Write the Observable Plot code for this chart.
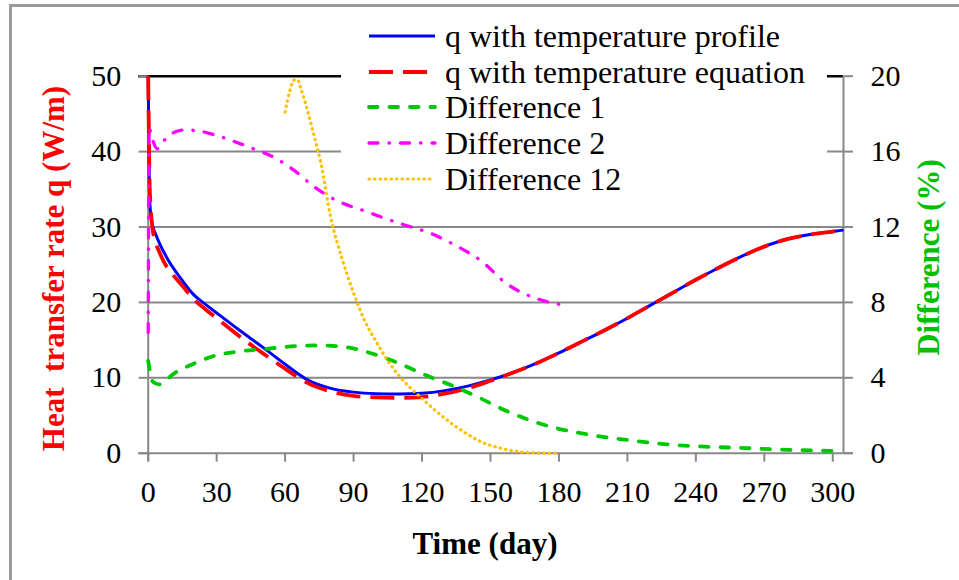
<!DOCTYPE html>
<html>
<head>
<meta charset="utf-8">
<script src="https://cdn.jsdelivr.net/npm/d3@7"></script>
<script src="https://cdn.jsdelivr.net/npm/@observablehq/plot@0.6"></script>
<style>
  html, body { margin: 0; padding: 0; background: #fff; }
  #wrap { position: relative; width: 959px; height: 580px; overflow: hidden; font-family: "Liberation Serif", "Times New Roman", serif; }
  #frame { position: absolute; left: 9px; top: 4px; width: 960px; height: 590px; border-left: 3px solid #999; border-top: 3px solid #999; box-sizing: border-box; }
  #chart { position: absolute; left: 0; top: 0; }
  .lab { position: absolute; font-weight: bold; font-size: 31px; white-space: pre; line-height: 1; }
  #legend { position: absolute; left: 341px; top: 18px; width: 486px; height: 178px; background: #fff; }
  .row { position: absolute; left: 26px; height: 36px; display: flex; align-items: center; font-size: 32px; white-space: nowrap; font-family: "Liberation Serif", "Times New Roman", serif; }
  .row svg { width: 70px; height: 12px; margin-right: 8px; }
</style>
</head>
<body>
<div id="wrap">
  <div id="frame"></div>
  <div id="chart"></div>
  <div id="legend"></div>
  <div class="lab" id="ylab" style="color:#ff0000;">Heat  transfer rate q (W/m)</div>
  <div class="lab" id="y2lab" style="color:#00c000;">Difference (%)</div>
  <div class="lab" id="xlab" style="color:#000;">Time (day)</div>
</div>
<script>
// ---- data ----
const xTicks = [0, 30, 60, 90, 120, 150, 180, 210, 240, 270, 300];
const yTicks = [0, 10, 20, 30, 40, 50];          // heat transfer rate (W/m)
const y2Ticks = [0, 4, 8, 12, 16, 20];           // difference (%)

const profileDay = [0, 0.3, 0.6, 1, 2, 3.2, 5, 9, 14, 20, 24, 30, 40, 50, 60, 70, 80, 90, 100, 110, 120, 130, 140, 150, 160, 170, 180, 190, 200, 210, 220, 230, 240, 250, 260, 270, 280, 290, 300, 304.7];
const profileQ = [50, 40, 34, 32, 30.1, 29.1, 27.8, 25.5, 23.3, 21.0, 20.0, 18.6, 16.3, 14.1, 11.8, 9.7, 8.6, 8.1, 7.9, 7.85, 7.95, 8.3, 8.9, 9.7, 10.7, 11.9, 13.3, 14.8, 16.3, 17.9, 19.6, 21.3, 23.0, 24.6, 26.1, 27.4, 28.4, 29.0, 29.4, 29.6];

const equationDay = [0, 0.3, 0.6, 1, 2, 3, 5, 7, 10, 15, 20, 25, 30, 40, 50, 60, 64, 70, 80, 90, 100, 110, 120, 130, 140, 150, 160, 170, 180, 190, 200, 210, 220, 230, 240, 250, 260, 270, 280, 290, 300, 304.7];
const equationQ = [50, 42, 36, 33, 29.6, 28.2, 26.6, 25.3, 24.0, 22.2, 20.4, 19.1, 17.9, 15.5, 13.3, 11.2, 10.4, 9.3, 8.2, 7.6, 7.4, 7.35, 7.45, 7.9, 8.6, 9.6, 10.7, 11.9, 13.3, 14.8, 16.3, 17.9, 19.6, 21.3, 23.0, 24.6, 26.1, 27.4, 28.4, 29.0, 29.4, 29.6];

const diff1Day = [0, 1, 2, 4.7, 8, 11, 20, 30, 40, 52, 65, 75, 87, 95, 105, 115, 122, 135, 146, 155, 165, 175, 190, 200, 210, 226, 240, 262, 280, 300];
const diff1 = [4.9, 4.2, 3.8, 3.65, 3.9, 4.2, 4.75, 5.2, 5.4, 5.54, 5.68, 5.72, 5.62, 5.4, 5.0, 4.5, 4.12, 3.5, 2.89, 2.35, 1.85, 1.45, 1.05, 0.85, 0.7, 0.48, 0.37, 0.27, 0.18, 0.12];

const diff2Day = [0, 0.4, 1.5, 4, 7, 11, 16, 22, 30, 45, 55, 64, 72, 81, 96, 110, 125, 135, 146, 157, 168, 180];
const diff2 = [6.4, 17.3, 16.8, 16.15, 16.6, 17.0, 17.15, 17.1, 16.85, 16.2, 15.7, 15.0, 14.2, 13.5, 12.8, 12.2, 11.6, 11.0, 10.2, 9.0, 8.3, 7.9];

const diff12Day = [60, 62, 64, 65.5, 67, 70, 73, 75.5, 80, 85, 90, 95, 100, 105, 110, 120, 130, 140, 146, 155, 163, 170, 180];
const diff12 = [18.1, 19.2, 19.8, 19.8, 19.3, 18.1, 16.7, 15.5, 12.5, 10.3, 8.5, 7.0, 5.9, 4.9, 4.1, 2.9, 1.85, 1.0, 0.6, 0.25, 0.07, 0.02, 0.0];

const seriesNames = ["q with temperature profile", "q with temperature equation", "Difference 1", "Difference 2", "Difference 12"];
const xMax = 304.7;
const qMax = 50, pctMax = 20;
const ratio = qMax / pctMax;

// ---- styles ----
const styles = [
  {stroke: "#0000ff", strokeWidth: 3, dash: null, cap: "butt"},
  {stroke: "#ff0000", strokeWidth: 3.8, dash: "24,10", cap: "butt"},
  {stroke: "#00c800", strokeWidth: 3.8, dash: "8.5,12", cap: "round"},
  {stroke: "#ff00ff", strokeWidth: 3.3, dash: "9,11,0.5,11", cap: "round"},
  {stroke: "#ffc000", strokeWidth: 3.2, dash: "0.5,5", cap: "round"}
];

const zip = (xs, ys, k = 1) => xs.map((d, i) => ({day: d, v: ys[i] * k}));
const series = [
  zip(profileDay, profileQ),
  zip(equationDay, equationQ),
  zip(diff1Day, diff1, ratio),
  zip(diff2Day, diff2, ratio),
  zip(diff12Day, diff12, ratio)
];

const gray = "#888";
const font = "'Liberation Serif', 'Times New Roman', serif";

const chart = Plot.plot({
  width: 959,
  height: 580,
  marginLeft: 147.7,
  marginRight: 116,
  marginTop: 75.7,
  marginBottom: 127.3,
  style: {fontFamily: font, fontSize: "30px", color: "#000", background: "transparent", overflow: "visible"},
  x: {domain: [0, xMax]},
  y: {domain: [0, qMax]},
  marks: [
    Plot.gridY(yTicks.filter(d => d > 0 && d < qMax), {stroke: gray, strokeOpacity: 1, strokeWidth: 2}),
    Plot.ruleY([qMax], {stroke: "#000", strokeWidth: 2.5, insetLeft: -9.5}),
    Plot.ruleY([0], {stroke: gray, strokeWidth: 2, insetLeft: -9.5, insetRight: -9.5}),
    Plot.ruleX([0], {stroke: gray, strokeWidth: 2, insetBottom: -8.5}),
    Plot.ruleX([xMax], {stroke: gray, strokeWidth: 2}),
    Plot.axisX({ticks: xTicks, tickSize: 9, tickPadding: 18, stroke: gray, strokeWidth: 2, fill: "#000", fontSize: 30, fontFamily: font, label: null, tickFormat: d => d}),
    Plot.axisY({ticks: yTicks, anchor: "left", tickSize: 9, tickPadding: 18, stroke: gray, strokeWidth: 2, fill: "#000", fontSize: 30, fontFamily: font, label: null}),
    Plot.axisY({ticks: yTicks, anchor: "right", tickSize: 9, tickPadding: 18, stroke: gray, strokeWidth: 2, fill: "#000", fontSize: 30, fontFamily: font, label: null, tickFormat: d => String(Math.round(d / ratio))}),
    ...series.map((data, i) => Plot.line(data, {
      x: "day", y: "v", curve: "monotone-x",
      stroke: styles[i].stroke, strokeWidth: styles[i].strokeWidth,
      strokeDasharray: styles[i].dash, strokeLinecap: styles[i].cap, strokeLinejoin: "round"
    }))
  ]
});
document.getElementById("chart").appendChild(chart);

// ---- legend ----
const legend = document.getElementById("legend");
const rowTops = [0, 36, 71, 107, 143];
seriesNames.forEach((name, i) => {
  const row = document.createElement("div");
  row.className = "row";
  row.style.top = rowTops[i] + "px";
  const s = styles[i];
  row.innerHTML = `<svg viewBox="0 0 70 12"><line x1="2" y1="6" x2="68" y2="6" stroke="${s.stroke}" stroke-width="${s.strokeWidth}" stroke-linecap="${s.cap}" ${s.dash ? `stroke-dasharray="${s.dash}"` : ""}/></svg><span>${name}</span>`;
  legend.appendChild(row);
});

// ---- axis titles ----
function place(id, cx, cy, rotate) {
  const el = document.getElementById(id);
  const w = el.offsetWidth, h = el.offsetHeight;
  el.style.left = (cx - w / 2) + "px";
  el.style.top = (cy - h / 2) + "px";
  if (rotate) el.style.transform = "rotate(-90deg)";
}
place("ylab", 53, 268, true);
place("y2lab", 928, 257, true);
place("xlab", 485, 543, false);
</script>
</body>
</html>
